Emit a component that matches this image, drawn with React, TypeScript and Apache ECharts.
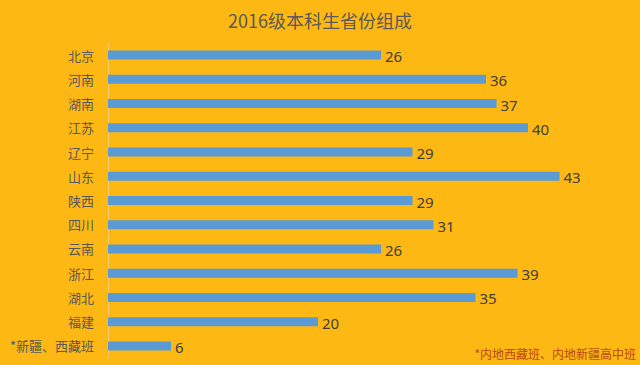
import React, { useEffect, useRef } from "react";
import * as echarts from "echarts";

const categories = ["北京", "河南", "湖南", "江苏", "辽宁", "山东", "陕西", "四川", "云南", "浙江", "湖北", "福建", "*新疆、西藏班"];
const values = [26, 36, 37, 40, 29, 43, 29, 31, 26, 39, 35, 20, 6];
const titleText = "2016级本科生省份组成";
const footnote = "*内地西藏班、内地新疆高中班";

export default function App() {
  const ref = useRef<HTMLDivElement>(null);
  useEffect(() => {
    const chart = echarts.init(ref.current!, null, { renderer: "svg" });
    chart.setOption({
      animation: false,
      backgroundColor: "#FDB813",
      title: {
        text: titleText,
        left: "center",
        top: 6,
        textStyle: { color: "#5a5a5a", fontSize: 18, fontWeight: "normal", fontFamily: "Noto Sans CJK SC" },
      },
      graphic: [
        {
          type: "text",
          right: 4,
          bottom: 6,
          style: { text: footnote, fill: "#B9470E", fontSize: 12, fontFamily: "Noto Sans CJK SC" },
        },
      ],
      grid: { left: 108, right: 7, top: 43, bottom: 7, containLabel: false },
      xAxis: {
        type: "value",
        min: 0,
        max: 50,
        show: false,
      },
      yAxis: {
        type: "category",
        data: categories,
        inverse: true,
        axisLine: { show: true, lineStyle: { color: "#F8CC6A", width: 1 } },
        axisTick: { show: false },
        axisLabel: { color: "#595959", fontSize: 13, margin: 14, fontFamily: "Noto Sans CJK SC" },
      },
      series: [
        {
          type: "bar",
          data: values,
          barWidth: 9,
          itemStyle: { color: "#5B9BD5" },
          label: {
            show: true,
            position: "right",
            distance: 4,
            offset: [0, 1],
            color: "#404040",
            fontSize: 15,
            fontFamily: "Noto Sans",
          },
        },
      ],
    });
    return () => chart.dispose();
  }, []);
  return <div ref={ref} style={{ width: 640, height: 365, position: "fixed", left: 0, top: 0 }} />;
}
